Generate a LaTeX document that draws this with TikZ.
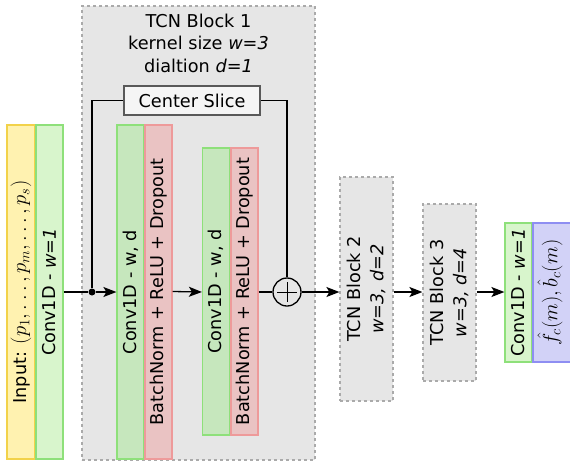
\RequirePackage{fix-cm}
\documentclass[tikz,border=0pt]{standalone}
\usepackage{fontspec}
\setmainfont{DejaVu Sans}
\usetikzlibrary{arrows.meta}
\definecolor{inyellow}{HTML}{FFF2B0}
\definecolor{inyellowd}{HTML}{F2D24A}
\definecolor{convlight}{HTML}{D8F5CC}
\definecolor{convdark}{HTML}{C6E7BD}
\definecolor{convline}{HTML}{8EE07A}
\definecolor{bnfill}{HTML}{EAC3C3}
\definecolor{bnline}{HTML}{EE9A9A}
\definecolor{outfill}{HTML}{D2D2F7}
\definecolor{outline}{HTML}{8E8EF2}
\definecolor{tcnfill}{HTML}{E6E6E6}
\definecolor{tcnline}{HTML}{AAAAAA}
\newcommand{\bigmath}[1]{{\fontsize{20.7}{24}\selectfont$#1$}}
\begin{document}
\begin{tikzpicture}[x=1pt,y=-1pt,>={Stealth[length=13pt,width=10pt,inset=3pt]},
    font=\fontsize{17.7}{22.5}\selectfont,
    layer/.style={rectangle,draw,line width=1.2pt,inner sep=0pt,
        minimum width=27pt},
    vtext/.style={rotate=90},
    tcn/.style={rectangle,draw=tcnline,fill=tcnfill,
        line width=1.2pt,dash pattern=on 3pt off 3pt,inner sep=0pt},
    link/.style={line width=1.3pt}]
    \useasboundingbox (0,0) rectangle (570,461);
    % the big block
    \node[tcn,minimum width=233pt,minimum height=454pt] (tcnone) at (198.5,233) {};
    \node[align=center] (tcntitle) at (198.5,43)
        {TCN Block 1\\kernel size \textit{w=3}\\dialtion \textit{d=1}};

    % the layers
    \node[layer,draw=inyellowd,fill=inyellow,minimum width=28pt,
        minimum height=334pt] (input) at (21,292) {};
    \node[vtext] at (input) {Input: \bigmath{(p_1,\ldots,p_m,\ldots,p_s)}};
    \node[layer,draw=convline,fill=convlight,minimum height=334pt]
        (convin) at (49.5,292) {};
    \node[vtext] at (convin) {Conv1D - \textit{w=1}};
    \node[layer,draw=convline,fill=convdark,minimum height=334pt]
        (conva) at (130.5,292) {};
    \node[vtext] at (conva) {Conv1D - w, d};
    \node[layer,draw=bnline,fill=bnfill,minimum height=334pt]
        (bna) at (158.5,292) {};
    \node[vtext] at (bna) {BatchNorm + ReLU + Dropout};
    \node[layer,draw=convline,fill=convdark,minimum height=287pt]
        (convb) at (216,291.5) {};
    \node[vtext] at (convb) {Conv1D - w, d};
    \node[layer,draw=bnline,fill=bnfill,minimum height=287pt]
        (bnb) at (244.5,291.5) {};
    \node[vtext] at (bnb) {BatchNorm + ReLU + Dropout};

    \node[rectangle,draw=black!65,fill=black!4,line width=1.1pt,
        minimum width=136pt,minimum height=29pt] (slice) at (192,100.5)
        {Center Slice};
    \node[circle,draw,line width=1.3pt,minimum size=28pt,inner sep=0pt]
        (plus) at (287,292) {};
    \draw[line width=0.8pt] (plus.center) ++(0,-10) -- ++(0,20)
        (plus.center) ++(-10,0) -- ++(20,0);
    \node[circle,fill=black,inner sep=0pt,minimum size=7pt] (split)
        at (92,292) {};

    \node[tcn,minimum width=53pt,minimum height=224pt] (tcntwo)
        at (366.5,289) {};
    \node[vtext,align=center] at (tcntwo) {TCN Block 2\\\textit{w=3, d=2}};
    \node[tcn,minimum width=53pt,minimum height=177pt] (tcnthree)
        at (449.5,292.5) {};
    \node[vtext,align=center] at (tcnthree) {TCN Block 3\\\textit{w=3, d=4}};
    \node[layer,draw=convline,fill=convlight,minimum height=139pt]
        (convout) at (518.5,292.5) {};
    \node[vtext] at (convout) {Conv1D - \textit{w=1}};
    \node[layer,draw=outline,fill=outfill,minimum width=44pt,
        minimum height=139pt] (output) at (555,292.5) {};
    \node[vtext] at (550,292.5) {\bigmath{\hat{f}_c(m),\hat{b}_c(m)}};

    % the links
    \draw[link] (convin.east |- split) -- (split);
    \draw[link,->] (split) -- (conva.west |- split);
    \draw[link,->] (bna.east |- convb) -- (convb.west |- split);
    \draw[link] (bnb.east |- plus) -- (plus);
    \draw[link,->] (plus) -- (tcntwo.west |- plus);
    \draw[link,->] (tcntwo.east |- plus) -- (tcnthree.west |- plus);
    \draw[link,->] (tcnthree.east |- plus) -- (convout.west |- plus);
    \draw[link] (split) |- (slice);
    \draw[link] (slice) -| (plus);
\end{tikzpicture}
\end{document}
